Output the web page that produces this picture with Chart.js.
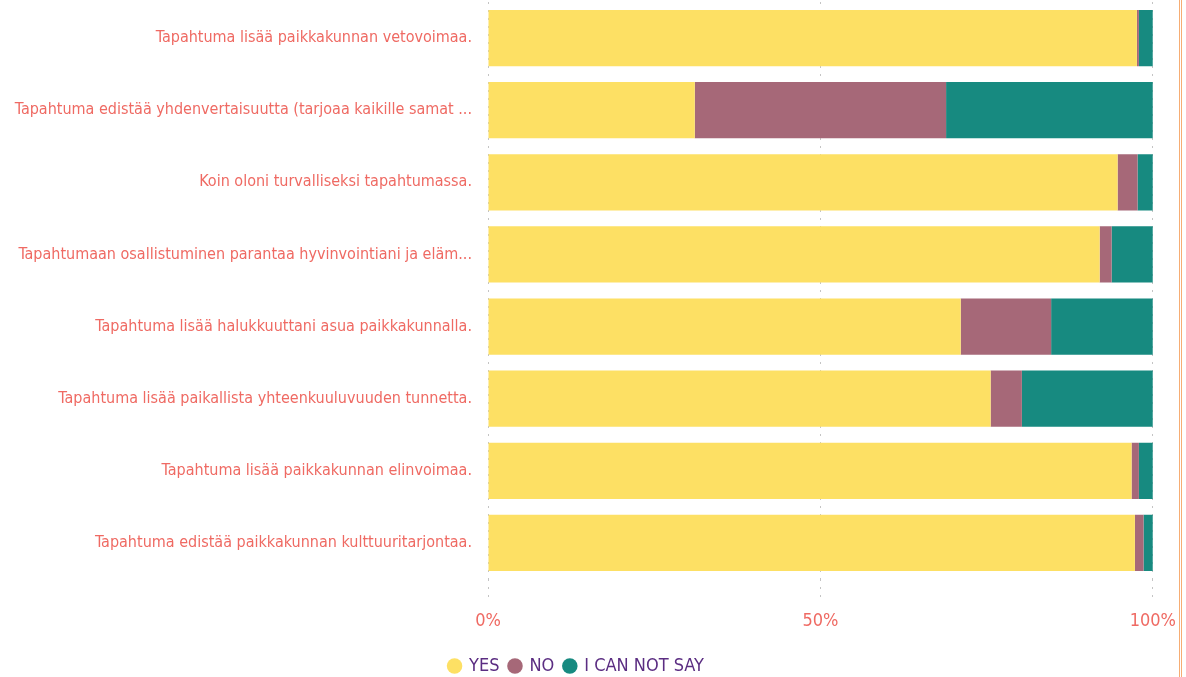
<!DOCTYPE html>
<html>
<head>
<meta charset="utf-8">
<script src="https://cdn.jsdelivr.net/npm/chart.js@4.4.1/dist/chart.umd.min.js"></script>
<style>
  html, body { margin: 0; padding: 0; background: #fff; }
  #wrap { position: relative; width: 1186px; height: 677px; }
  #frame { position: absolute; left: 1179px; top: 0; width: 1px; height: 677px;
           border-left: 1px solid #f6ad74; border-right: 1px solid #f6ad74; }
</style>
</head>
<body>
<div id="wrap">
  <canvas id="chart" width="1186" height="677"></canvas>
  <div id="frame"></div>
</div>
<script>
// Väittämät (y-akselin kategoriat)
const categories = [
  'Tapahtuma lisää paikkakunnan vetovoimaa.',
  'Tapahtuma edistää yhdenvertaisuutta (tarjoaa kaikille samat ...',
  'Koin oloni turvalliseksi tapahtumassa.',
  'Tapahtumaan osallistuminen parantaa hyvinvointiani ja eläm...',
  'Tapahtuma lisää halukkuuttani asua paikkakunnalla.',
  'Tapahtuma lisää paikallista yhteenkuuluvuuden tunnetta.',
  'Tapahtuma lisää paikkakunnan elinvoimaa.',
  'Tapahtuma edistää paikkakunnan kulttuuritarjontaa.'
];

// Osuudet prosentteina
const yesValues = [97.6, 31.1, 94.7, 92.0, 71.1, 75.6, 96.8, 97.3];
const noValues = [0.3, 37.8, 3.0, 1.8, 13.6, 4.7, 1.1, 1.3];
const cantSayValues = [2.1, 31.1, 2.3, 6.2, 15.3, 19.7, 2.1, 1.4];

const xTicks = [0, 50, 100];

const labelColor = '#ef6a63';
const fontFamily = '"Liberation Sans Narrow", "DejaVu Sans Condensed", "Roboto", sans-serif';

const ctx = document.getElementById('chart').getContext('2d');
new Chart(ctx, {
  type: 'bar',
  data: {
    labels: categories,
    datasets: [
      { label: 'YES', data: yesValues, backgroundColor: '#fde064' },
      { label: 'NO', data: noValues, backgroundColor: '#a66878' },
      { label: 'I CAN NOT SAY', data: cantSayValues, backgroundColor: '#178a80' }
    ]
  },
  options: {
    indexAxis: 'y',
    responsive: false,
    animation: false,
    categoryPercentage: 1,
    barPercentage: 0.78,
    layout: { padding: { top: 2, right: 33, left: 0, bottom: -8 } },
    scales: {
      x: {
        stacked: true,
        min: 0,
        max: 100,
        afterBuildTicks: (scale) => { scale.ticks = xTicks.map(v => ({ value: v })); },
        afterFit: (scale) => { scale.height = 68; },
        grid: {
          color: '#c4c4c4',
          lineWidth: 1,
          tickLength: 22,
          drawTicks: true,
          tickBorderDash: [2, 6]
        },
        border: { display: false, dash: [2, 6] },
        ticks: {
          color: labelColor,
          padding: 10,
          font: { family: fontFamily, size: 18 },
          callback: (v) => v + '%'
        }
      },
      y: {
        stacked: true,
        afterFit: (scale) => {
          scale.width = 488;
          scale.paddingTop = 0;
          scale.paddingBottom = 0;
        },
        border: { display: false },
        grid: { display: false },
        ticks: {
          color: labelColor,
          padding: 8,
          font: { family: fontFamily, size: 16 }
        }
      }
    },
    plugins: {
      legend: {
        position: 'bottom',
        align: 'center',
        labels: {
          usePointStyle: true,
          pointStyle: 'circle',
          boxWidth: 11,
          boxHeight: 11,
          padding: 10,
          color: '#5b2d82',
          font: { family: fontFamily, size: 18 }
        }
      },
      tooltip: { enabled: false }
    }
  }
});
</script>
</body>
</html>
